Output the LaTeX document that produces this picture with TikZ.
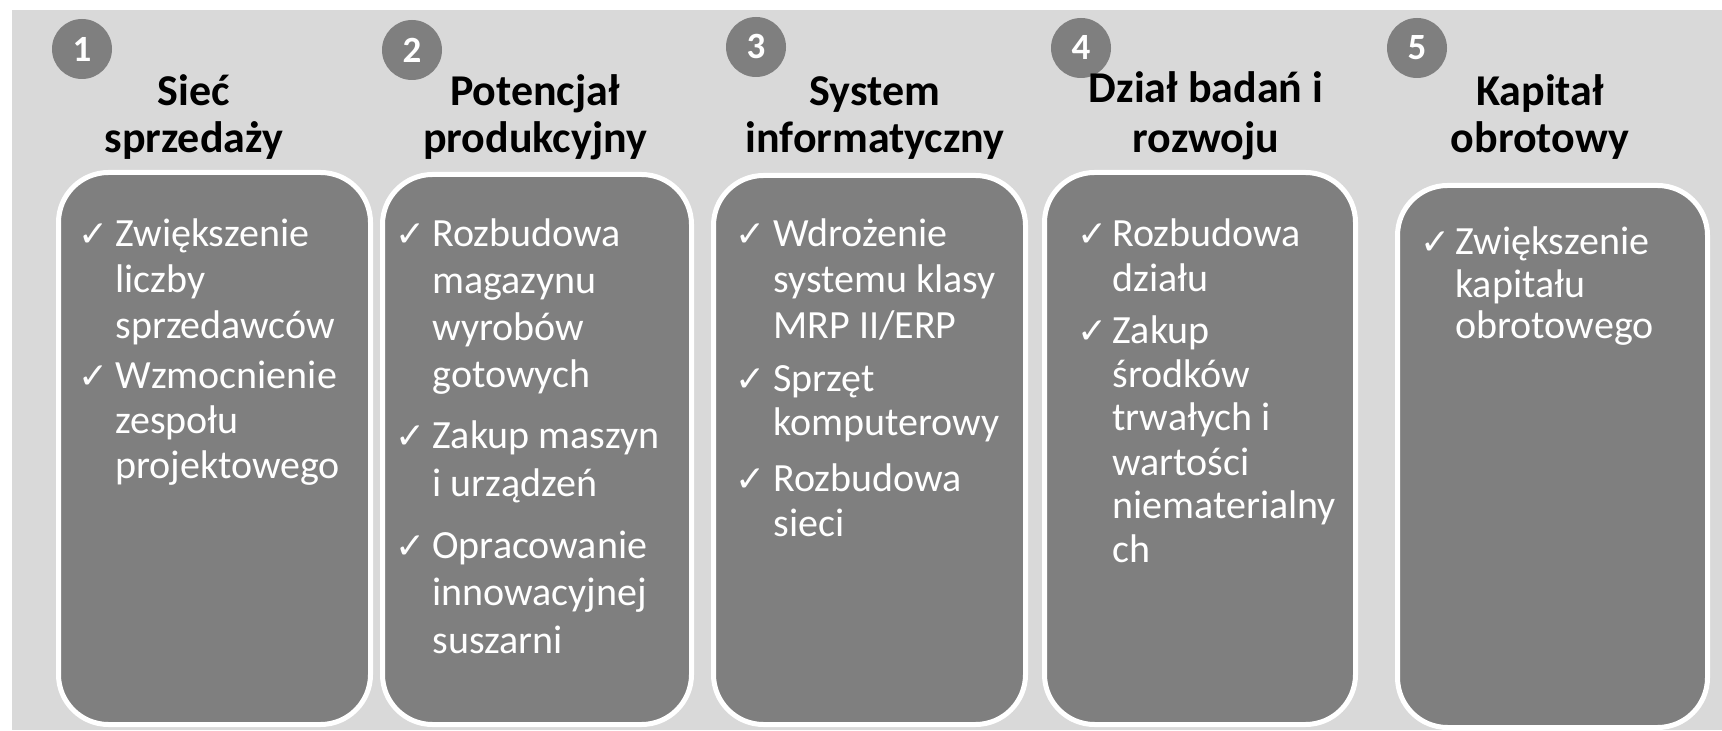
\documentclass[tikz,border=0pt]{standalone}
\usepackage{fontspec}
\setmainfont{Carlito}
\newfontfamily\symfont{DejaVu Sans}
\definecolor{bggray}{HTML}{D9D9D9}
\definecolor{boxgray}{HTML}{7F7F7F}
\tikzset{
  boxstyle/.style={fill=boxgray, draw=white, line width=2.5pt, rounded corners=25pt},
  numc/.style={circle, fill=boxgray, minimum size=30pt, inner sep=0pt, text=white, font=\fontsize{18.5}{19}\selectfont\bfseries},
  ttl/.style={anchor=base, inner sep=0pt, text=black, font=\fontsize{22}{24}\selectfont\bfseries},
  itm/.style={anchor=base west, inner sep=0pt, text=white, font=\fontsize{20}{21}\selectfont},
  chk/.style={anchor=base west, inner sep=0pt, text=white, font=\symfont\fontsize{18}{19}\selectfont}
}
\begin{document}
\begin{tikzpicture}[x=0.5pt,y=-0.5pt]
\useasboundingbox (0,0) rectangle (1722,731);
\fill[bggray] (12,10) rectangle (1722,730);
% boxes
\draw[boxstyle] (58.5,172.5) rectangle (370.5,724.5);
\draw[boxstyle] (382.5,174.5) rectangle (691.5,724.5);
\draw[boxstyle] (713.5,175.5) rectangle (1025.5,724.5);
\draw[boxstyle] (1044.5,172.5) rectangle (1355.5,724.5);
\draw[boxstyle] (1397.5,185.5) rectangle (1707.5,727.5);
% number circles
\node[numc] (n1) at (82,49) {1};
\node[numc] (n2) at (412,50) {2};
\node[numc] (n3) at (756,47) {3};
\node[numc] (n4) at (1081,48) {4};
\node[numc] (n5) at (1417,48) {5};
% titles
\node[ttl] (t1a) at (194,106) {Sieć};
\node[ttl] (t1b) at (194,153) {sprzedaży};
\node[ttl] (t2a) at (535,106) {Potencjał};
\node[ttl] (t2b) at (535,153) {produkcyjny};
\node[ttl] (t3a) at (875,106) {System};
\node[ttl] (t3b) at (875,153) {informatyczny};
\node[ttl] (t4a) at (1206,103) {Dział badań i};
\node[ttl] (t4b) at (1206,153) {rozwoju};
\node[ttl] (t5a) at (1540,106) {Kapitał};
\node[ttl] (t5b) at (1540,153) {obrotowy};
% box 1
\node[chk] (c11) at (78,247) {✓};
\node[itm] (l11) at (115,247) {Zwiększenie};
\node[itm] (l12) at (115,293) {liczby};
\node[itm] (l13) at (115,339) {sprzedawców};
\node[chk] (c12) at (78,389) {✓};
\node[itm] (l14) at (115,389) {Wzmocnienie};
\node[itm] (l15) at (115,434) {zespołu};
\node[itm] (l16) at (115,479) {projektowego};
% box 2
\node[chk] (c21) at (395,247) {✓};
\node[itm] (l21) at (432,247) {Rozbudowa};
\node[itm] (l22) at (432,294) {magazynu};
\node[itm] (l23) at (432,341) {wyrobów};
\node[itm] (l24) at (432,388) {gotowych};
\node[chk] (c22) at (395,449) {✓};
\node[itm] (l25) at (432,449) {Zakup maszyn};
\node[itm] (l26) at (432,496) {i urządzeń};
\node[chk] (c23) at (395,558) {✓};
\node[itm] (l27) at (432,558) {Opracowanie};
\node[itm] (l28) at (432,605) {innowacyjnej};
\node[itm] (l29) at (432,653) {suszarni};
% box 3
\node[chk] (c31) at (735,247) {✓};
\node[itm] (l31) at (773,247) {Wdrożenie};
\node[itm] (l32) at (773,293) {systemu klasy};
\node[itm] (l33) at (773,339) {MRP II/ERP};
\node[chk] (c32) at (735,392) {✓};
\node[itm] (l34) at (773,392) {Sprzęt};
\node[itm] (l35) at (773,436) {komputerowy};
\node[chk] (c33) at (735,492) {✓};
\node[itm] (l36) at (773,492) {Rozbudowa};
\node[itm] (l37) at (773,536) {sieci};
% box 4
\node[chk] (c41) at (1077,247) {✓};
\node[itm] (l41) at (1112,247) {Rozbudowa};
\node[itm] (l42) at (1112,292) {działu};
\node[chk] (c42) at (1077,344) {✓};
\node[itm] (l43) at (1112,344) {Zakup};
\node[itm] (l44) at (1112,388) {środków};
\node[itm] (l45) at (1112,431) {trwałych i};
\node[itm] (l46) at (1112,475) {wartości};
\node[itm] (l47) at (1112,518) {niematerialny};
\node[itm] (l48) at (1112,562) {ch};
% box 5
\node[chk] (c51) at (1420,255) {✓};
\node[itm] (l51) at (1455,255) {Zwiększenie};
\node[itm] (l52) at (1455,298) {kapitału};
\node[itm] (l53) at (1455,339) {obrotowego};
\end{tikzpicture}
\end{document}
